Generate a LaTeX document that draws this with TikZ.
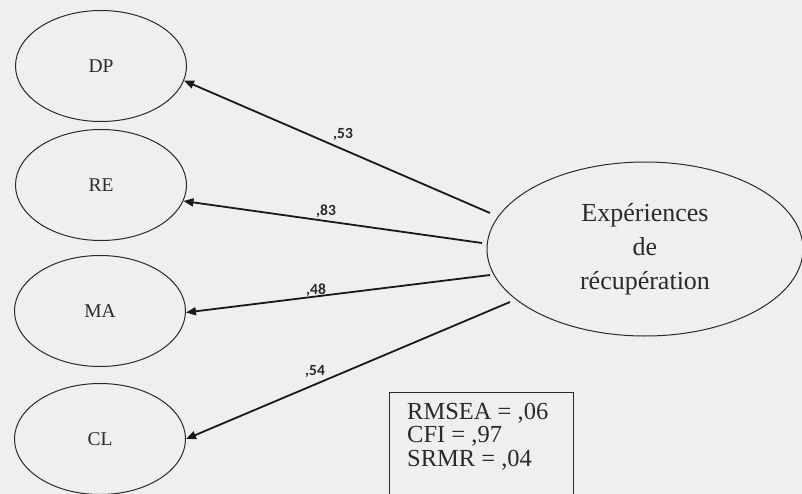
\documentclass[tikz,border=0pt]{standalone}
\usepackage{fontspec}
\setmainfont{Liberation Serif}
\newfontfamily\lblfont{Carlito}
\usetikzlibrary{shapes.geometric,arrows.meta}
\definecolor{bg}{HTML}{EFEFEF}
\definecolor{ink}{HTML}{2A2A2A}
\tikzset{
  small/.style={draw=ink,ellipse,line width=1pt,minimum width=171pt,minimum height=111pt,inner sep=0pt,text=ink,font=\fontsize{19.5}{22}\selectfont},
  big/.style={draw=ink,ellipse,line width=1pt,minimum width=316pt,minimum height=174pt,inner sep=0pt,text=ink,align=center,font=\fontsize{26}{34}\selectfont},
  arr/.style={draw=black!90,line width=1.8pt,-{Triangle[length=10pt,width=8pt]}},
  coef/.style={font=\lblfont\bfseries\fontsize{15.5}{17}\selectfont,text=ink,inner sep=0pt},
  fitbox/.style={draw=ink,line width=1pt,minimum width=184pt,minimum height=110pt,inner sep=0pt}
}
\begin{document}
\begin{tikzpicture}[x=1pt,y=-1pt]
\useasboundingbox (0,0) rectangle (802,494);
\clip (0,0) rectangle (802,494);
\fill[bg] (0,0) rectangle (802,494);
\node[small] (dp) at (101,66) {DP};
\node[small] (re) at (101,185) {RE};
\node[small] (ma) at (100,311) {MA};
\node[small] (cl) at (100,439) {CL};
\node[big] (er) at (645,249) {Expériences\\de\\récupération};
\coordinate (t1) at (490,213);
\coordinate (t2) at (482,243);
\coordinate (t3) at (490,275);
\coordinate (t4) at (510,302);
\draw[arr] (t1) -- (dp.-10);
\draw[arr] (t2) -- (re.-11);
\draw[arr] (t3) -- (ma.-1);
\draw[arr] (t4) -- (cl.0);
\node[coef] (c1) at (343,134) {,53};
\node[coef] (c2) at (326,211) {,83};
\node[coef] (c3) at (316,290) {,48};
\node[coef] (c4) at (315,372) {,54};
\node[fitbox,anchor=north west] (fb) at (389,392) {};
\node[anchor=north west,align=left,text=ink,inner sep=0pt,font=\fontsize{24.5}{23.5}\selectfont] (fit) at (407,403) {RMSEA = ,06\\CFI = ,97\\SRMR = ,04};
\end{tikzpicture}
\end{document}
